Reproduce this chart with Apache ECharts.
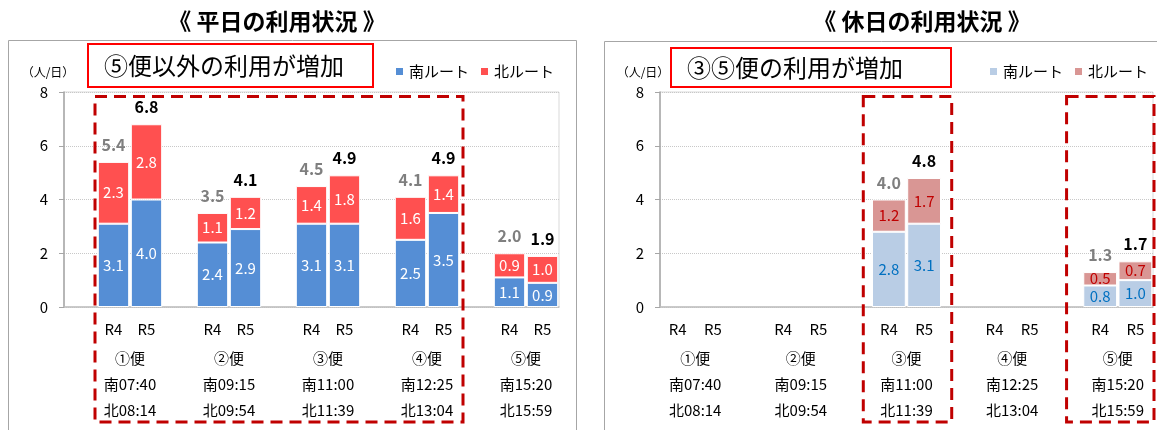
<!DOCTYPE html>
<html><head><meta charset="utf-8">
<script src="https://cdn.jsdelivr.net/npm/echarts@6/dist/echarts.min.js"></script>
<style>html,body{margin:0;padding:0;background:#fff}#c{width:1157px;height:430px}</style>
</head><body><div id="c"></div>
<script>
// ---------- data ----------
const flights = ['①便','②便','③便','④便','⑤便'];
const southTimes = ['南07:40','南09:15','南11:00','南12:25','南15:20'];
const northTimes = ['北08:14','北09:54','北11:39','北13:04','北15:59'];
const years = ['R4','R5'];
const yTicks = [0, 2, 4, 6, 8];

// weekday (平日)
const wdSouthR4 = [3.1, 2.4, 3.1, 2.5, 1.1];
const wdSouthR5 = [4.0, 2.9, 3.1, 3.5, 0.9];
const wdNorthR4 = [2.3, 1.1, 1.4, 1.6, 0.9];
const wdNorthR5 = [2.8, 1.2, 1.8, 1.4, 1.0];
const wdTotalR4 = [5.4, 3.5, 4.5, 4.1, 2.0];
const wdTotalR5 = [6.8, 4.1, 4.9, 4.9, 1.9];

// holiday (休日)
const hdSouthR4 = [null, null, 2.8, null, 0.8];
const hdSouthR5 = [null, null, 3.1, null, 1.0];
const hdNorthR4 = [null, null, 1.2, null, 0.5];
const hdNorthR5 = [null, null, 1.7, null, 0.7];
const hdTotalR4 = [null, null, 4.0, null, 1.3];
const hdTotalR5 = [null, null, 4.8, null, 1.7];

// ---------- helpers ----------
const FONT = "'Noto Sans CJK JP', 'Noto Sans', sans-serif";

function makeSlots(leadGap) {
  const s = [];
  flights.forEach((f, g) => {
    if (leadGap || g > 0) s.push(null);
    s.push({ g: g, y: 0 });
    s.push({ g: g, y: 1 });
  });
  return s;
}
function pick(slots, r4, r5) {
  return slots.map(s => {
    if (!s) return '-';
    const v = s.y === 0 ? r4[s.g] : r5[s.g];
    return v == null ? '-' : v;
  });
}
function groupAxisData(slots) {
  const d = new Array(slots.length + 1).fill('');
  slots.forEach((s, i) => {
    if (s && s.y === 0) d[i + 1] = flights[s.g] + '\n' + southTimes[s.g] + '\n' + northTimes[s.g];
  });
  return d;
}

const wdSlots = makeSlots(true);
const hdSlots = makeSlots(false);

function buildChart(cfg) {
  const { slots, gridIndex, xIdx, prefix, southR4, southR5, northR4, northR5, totR4, totR5,
          southColor, northColor, southLabel, northLabel } = cfg;
  const totalLabels = slots.map(s => {
    if (!s) return '';
    const v = s.y === 0 ? totR4[s.g] : totR5[s.g];
    return v == null ? '' : v.toFixed(1);
  });
  const totalData = slots.map((s, i) => {
    if (!s || totalLabels[i] === '') return '-';
    return { value: 0, label: { color: s.y === 0 ? '#7f7f7f' : '#000000' } };
  });
  const common = {
    type: 'bar', stack: prefix, xAxisIndex: xIdx, yAxisIndex: gridIndex,
    barCategoryGap: cfg.gap, animation: false
  };
  return [
    Object.assign({}, common, {
      name: prefix + ':南ルート',
      data: pick(slots, southR4, southR5),
      itemStyle: { color: southColor, borderColor: '#ffffff', borderWidth: 1 },
      label: { show: true, position: 'inside', color: southLabel, fontSize: 15, fontFamily: FONT,
               formatter: p => Number(p.value).toFixed(1) }
    }),
    Object.assign({}, common, {
      name: prefix + ':北ルート',
      data: pick(slots, northR4, northR5),
      itemStyle: { color: northColor, borderColor: '#ffffff', borderWidth: 1 },
      label: { show: true, position: 'inside', color: northLabel, fontSize: 15, fontFamily: FONT,
               formatter: p => Number(p.value).toFixed(1) }
    }),
    Object.assign({}, common, {
      name: prefix + ':total',
      data: totalData,
      itemStyle: { color: 'rgba(0,0,0,0)' },
      label: { show: true, position: 'top', distance: 9, fontSize: 16, fontWeight: 'bold', fontFamily: FONT,
               formatter: p => totalLabels[p.dataIndex] }
    })
  ];
}

function yAxisFor(gridIndex, namePad) {
  return {
    type: 'value', gridIndex: gridIndex, min: 0, max: 8, interval: 2,
    name: '（人/日）', nameLocation: 'end', nameGap: 14,
    nameTextStyle: { fontSize: 12, color: '#000', fontFamily: FONT, align: 'center', padding: [0, namePad, 0, 0] },
    axisLine: { show: true, lineStyle: { color: '#a6a6a6', width: 1.5 } },
    axisTick: { show: true, length: 5, lineStyle: { color: '#a6a6a6' } },
    axisLabel: { fontSize: 15, color: '#000', fontFamily: FONT, margin: 16,
                 formatter: v => (yTicks.indexOf(v) >= 0 ? String(v) : '') },
    splitLine: { show: true, lineStyle: { color: '#c8c8c8', type: 'dotted', width: 1 } }
  };
}
function xAxisFor(gridIndex, slots) {
  return {
    type: 'category', gridIndex: gridIndex, position: 'bottom',
    data: slots.map(s => (s ? years[s.y] : '')),
    axisLine: { show: true, lineStyle: { color: '#bfbfbf', width: 1.5 } },
    axisTick: { show: false },
    axisLabel: { interval: 0, fontSize: 15, lineHeight: 16, color: '#000', fontFamily: FONT, margin: 14 }
  };
}
function groupAxisFor(gridIndex, slots) {
  return {
    type: 'category', gridIndex: gridIndex, position: 'bottom', boundaryGap: false,
    data: groupAxisData(slots),
    axisLine: { show: false }, axisTick: { show: false }, splitLine: { show: false },
    axisLabel: { interval: 0, fontSize: 15, lineHeight: 26, color: '#000', fontFamily: FONT, margin: 38 }
  };
}

const chart = echarts.init(document.getElementById('c'), null, { renderer: 'canvas' });

const legendCommon = {
  orient: 'horizontal', icon: 'rect', itemWidth: 9, itemHeight: 9, itemGap: 10, padding: 0,
  width: 240, top: 64, selectedMode: false,
  textStyle: { fontSize: 15, color: '#000', fontFamily: FONT }, formatter: n => n.split(':')[1]
};

const option = {
  animation: false,
  backgroundColor: '#ffffff',
  textStyle: { fontFamily: FONT },
  grid: [
    { left: 64, right: 1157 - 559, top: 92, bottom: 430 - 307, show: true, borderColor: '#d9d9d9', borderWidth: 1, backgroundColor: 'transparent' },
    { left: 660, right: 1157 - 1153, top: 92, bottom: 430 - 307, show: true, borderColor: '#d9d9d9', borderWidth: 1, backgroundColor: 'transparent' }
  ],
  xAxis: [
    xAxisFor(0, wdSlots), groupAxisFor(0, wdSlots),
    xAxisFor(1, hdSlots), groupAxisFor(1, hdSlots)
  ],
  yAxis: [yAxisFor(0, 32), yAxisFor(1, 34)],
  legend: [
    Object.assign({}, legendCommon, { data: ['wd:南ルート', 'wd:北ルート'], left: 394 }),
    Object.assign({}, legendCommon, { data: ['hd:南ルート', 'hd:北ルート'], left: 988 })
  ],
  series: [].concat(
    buildChart({ slots: wdSlots, gridIndex: 0, xIdx: 0, prefix: 'wd', gap: '5%',
      southR4: wdSouthR4, southR5: wdSouthR5, northR4: wdNorthR4, northR5: wdNorthR5,
      totR4: wdTotalR4, totR5: wdTotalR5,
      southColor: '#558ed5', northColor: '#ff5050', southLabel: '#ffffff', northLabel: '#ffffff' }),
    buildChart({ slots: hdSlots, gridIndex: 1, xIdx: 2, prefix: 'hd', gap: '4%',
      southR4: hdSouthR4, southR5: hdSouthR5, northR4: hdNorthR4, northR5: hdNorthR5,
      totR4: hdTotalR4, totR5: hdTotalR5,
      southColor: '#b9cde5', northColor: '#d99694', southLabel: '#0070c0', northLabel: '#c00000' })
  )
};
chart.setOption(option);

// ---------- annotations (frames, titles, boxes) ----------
function px(xAxisIndex, idx) { return chart.convertToPixel({ xAxisIndex: xAxisIndex }, idx); }
function py(yAxisIndex, v) { return chart.convertToPixel({ yAxisIndex: yAxisIndex }, v); }

const dashedBoxes = [
  { xAxis: 0, yAxis: 0, from: 1, to: 11, padL: 2, padR: 3 },
  { xAxis: 2, yAxis: 1, from: 6, to: 7, padL: 8, padR: 10 },
  { xAxis: 2, yAxis: 1, from: 12, to: 13, padL: 16, padR: 1 }
];
const elements = [];
// outer frames
elements.push({ type: 'rect', shape: { x: 8.5, y: 40.5, width: 568, height: 420 }, style: { fill: 'none', stroke: '#a6a6a6', lineWidth: 1 }, z: 0 });
elements.push({ type: 'rect', shape: { x: 604.5, y: 41.5, width: 600, height: 420 }, style: { fill: 'none', stroke: '#a6a6a6', lineWidth: 1 }, z: 0 });
// titles
elements.push({ type: 'text', x: 277, y: 21, style: { text: '《 平日の利用状況 》', fontSize: 23, fontWeight: 'bold', fontFamily: FONT, fill: '#000', textAlign: 'center', textVerticalAlign: 'middle' } });
elements.push({ type: 'text', x: 922, y: 21, style: { text: '《 休日の利用状況 》', fontSize: 23, fontWeight: 'bold', fontFamily: FONT, fill: '#000', textAlign: 'center', textVerticalAlign: 'middle' } });
// red callout boxes
elements.push({ type: 'rect', shape: { x: 88, y: 44, width: 285, height: 43 }, style: { fill: '#fff', stroke: '#ff0000', lineWidth: 2 }, z: 5 });
elements.push({ type: 'text', x: 104, y: 66, style: { text: '⑤便以外の利用が増加', fontSize: 24, fontFamily: FONT, fill: '#000', textVerticalAlign: 'middle' }, z: 6 });
elements.push({ type: 'rect', shape: { x: 671, y: 48, width: 280, height: 39 }, style: { fill: '#fff', stroke: '#ff0000', lineWidth: 2 }, z: 5 });
elements.push({ type: 'text', x: 687, y: 68, style: { text: '③⑤便の利用が増加', fontSize: 24, fontFamily: FONT, fill: '#000', textVerticalAlign: 'middle' }, z: 6 });
// dashed highlight boxes
dashedBoxes.forEach(b => {
  const slotW = px(b.xAxis, 1) - px(b.xAxis, 0);
  const x0 = px(b.xAxis, b.from) - slotW / 2 - b.padL;
  const x1 = px(b.xAxis, b.to) + slotW / 2 + b.padR;
  const y0 = py(b.yAxis, 8) + 4.5;
  const y1 = 422;
  elements.push({ type: 'rect', shape: { x: x0, y: y0, width: x1 - x0, height: y1 - y0 },
    style: { fill: 'none', stroke: '#c00000', lineWidth: 3, lineDash: [12, 7] }, z: 10 });
});
chart.setOption({ graphic: { elements: elements } });
</script>
</body></html>
